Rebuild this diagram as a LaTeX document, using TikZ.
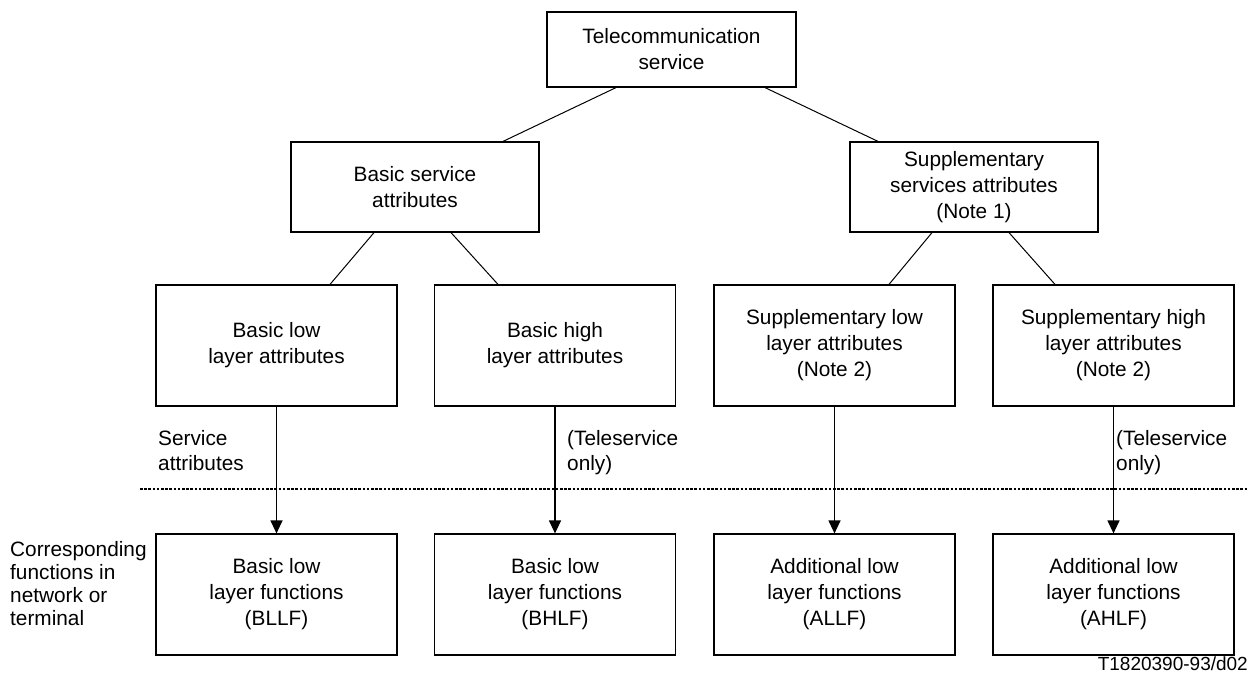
\documentclass[tikz,border=0pt]{standalone}
\usepackage{fontspec}
\setmainfont{Liberation Sans}
\usetikzlibrary{arrows.meta}

\begin{document}
\begin{tikzpicture}[x=1pt,y=-1pt,
                    box/.style={draw,line width=1.2pt,align=center,inner sep=0pt,
                                font=\fontsize{20.8pt}{26pt}\selectfont},
                    top box/.style={box,minimum width=249pt,minimum height=75pt},
                    mid box/.style={box,minimum width=248pt,minimum height=90pt},
                    low box/.style={box,minimum width=241pt,minimum height=121pt},
                    lbl/.style={align=left,inner sep=0pt,anchor=base west,
                                font=\fontsize{20.8pt}{25pt}\selectfont},
                    link/.style={line width=1pt},
                    down/.style={line width=1.2pt,-{Triangle[length=13pt,width=12pt]}}]
                    \useasboundingbox (0,0) rectangle (1249,672);
                    \node[top box] (tel) at (671.5,49.5) {Telecommunication\\service};
                    \node[mid box] (bsa) at (415,187) {Basic service\\attributes};
                    \node[mid box] (ssa) at (974,187) {Supplementary\\services attributes\\(Note 1)};
                    \node[low box] (bllattr) at (276.5,345.5) {Basic low\\layer attributes};
                    \node[low box] (bhlattr) at (555,345.5) {Basic high\\layer attributes};
                    \node[low box] (sllattr) at (834.5,345.5) {Supplementary low\\layer attributes\\(Note 2)};
                    \node[low box] (shlattr) at (1113.5,345.5) {Supplementary high\\layer attributes\\(Note 2)};
                    \node[low box] (bllf) at (276.5,594.5) {Basic low\\layer functions\\(BLLF)};
                    \node[low box] (bhlf) at (555,594.5) {Basic low\\layer functions\\(BHLF)};
                    \node[low box] (allf) at (834.5,594.5) {Additional low\\layer functions\\(ALLF)};
                    \node[low box] (ahlf) at (1113.5,594.5) {Additional low\\layer functions\\(AHLF)};
                    \draw[link] ([xshift=-55.5pt]tel.south) -- ([xshift=88pt]bsa.north);
                    \draw[link] ([xshift=93.5pt]tel.south) -- ([xshift=-96pt]ssa.north);
                    \draw[link] ([xshift=-41pt]bsa.south) -- ([xshift=53.5pt]bllattr.north);
                    \draw[link] ([xshift=36pt]bsa.south) -- ([xshift=-57pt]bhlattr.north);
                    \draw[link] ([xshift=-42pt]ssa.south) -- ([xshift=54.5pt]sllattr.north);
                    \draw[link] ([xshift=35pt]ssa.south) -- ([xshift=-58.5pt]shlattr.north);
                    \coordinate (divl) at (140,489);
                    \coordinate (divr) at (1249,489);
                    \draw[line width=2.8pt,dash pattern=on 2.6pt off 1.6pt] (divl) -- (divr);
                    \draw[down] (bllattr) -- (bllf);
                    \draw[down] (bhlattr) -- (bhlf);
                    \draw[down] (sllattr) -- (allf);
                    \draw[down] (shlattr) -- (ahlf);
                    \node[lbl] (svclbl) at (158,470) {Service\\attributes};
                    \node[lbl] (tele1) at (567,470) {(Teleservice\\only)};
                    \node[lbl] (tele2) at (1116,470) {(Teleservice\\only)};
                    \node[lbl,font=\fontsize{20.8pt}{23pt}\selectfont] (corrlbl) at (10,625)
                        {Corresponding\\functions in\\network or\\terminal};
                    \node[inner sep=0pt,anchor=base east,font=\fontsize{19pt}{19pt}\selectfont]
                        (figid) at (1248,670) {T1820390-93/d02};
                \end{tikzpicture}
\end{document}
